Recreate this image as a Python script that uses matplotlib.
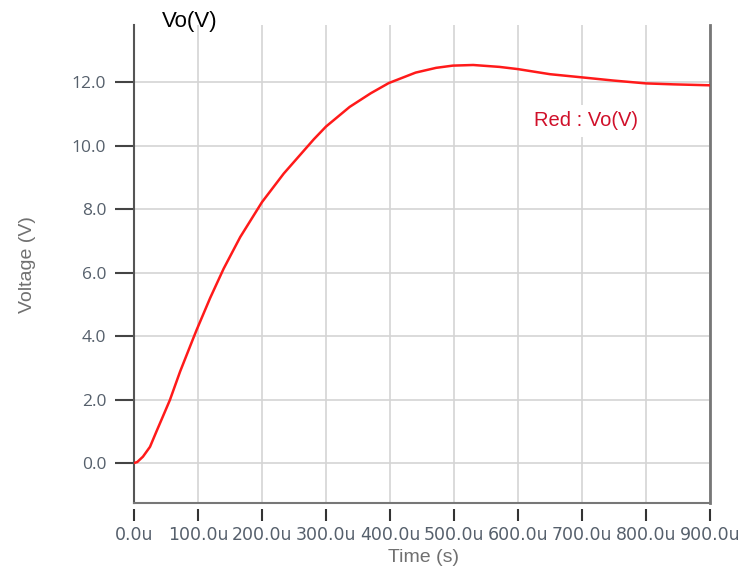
import matplotlib
matplotlib.use("Agg")
import matplotlib.pyplot as plt
import numpy as np

# transient response, time in microseconds
time_us = [0, 5, 14, 25, 35, 45, 56, 72, 93, 98, 119, 140, 166, 200, 234,
           281, 300, 337, 370, 398, 440, 472, 498, 530, 571, 600, 650, 700,
           749, 800, 843, 900]
vo = [0.0, 0.03, 0.2, 0.51, 0.99, 1.46, 1.98, 2.88, 3.95, 4.2, 5.2, 6.12,
      7.12, 8.22, 9.12, 10.2, 10.6, 11.22, 11.65, 11.97, 12.3, 12.45, 12.52,
      12.54, 12.48, 12.41, 12.25, 12.15, 12.05, 11.96, 11.93, 11.9]

x_ticks = [0, 100, 200, 300, 400, 500, 600, 700, 800, 900]
x_labels = [f"{t:.1f}u" for t in x_ticks]
y_ticks = [0, 2, 4, 6, 8, 10, 12]
y_labels = [f"{v:.1f}" for v in y_ticks]

fig = plt.figure(figsize=(7.44, 5.72), dpi=100)
ax = fig.add_axes([134 / 744, 1 - 503 / 572, 576 / 744, 478 / 572])

ax.plot(time_us, vo, color="#ff1a1a", lw=1.8, zorder=3)

ax.set_xlim(0, 900)
ax.set_ylim(-1.26, 13.8)
ax.set_xticks(x_ticks)
ax.set_xticklabels(x_labels, family="Open Sans")
ax.set_yticks(y_ticks)
ax.set_yticklabels(y_labels, family="Open Sans")
ax.grid(True, color="#d4d4d4", lw=1.2, zorder=0)

ax.spines["top"].set_visible(False)
ax.spines["left"].set_color("#555555")
ax.spines["left"].set_linewidth(1.5)
ax.spines["right"].set_color("#777777")
ax.spines["right"].set_linewidth(2)
ax.spines["bottom"].set_position(("outward", 4))
ax.spines["bottom"].set_visible(False)
ax.plot([0, 1], [0, 0], transform=ax.transAxes, color="#777777", lw=1.5,
        clip_on=False, zorder=4)

ax.tick_params(axis="y", length=14, width=1.5, color="#444444",
               labelcolor="#56606c", labelsize=12.5, pad=6)
ax.tick_params(axis="x", length=8.5, width=1.5, color="#333333",
               labelcolor="#56606c", labelsize=12.5, pad=4)

lab_font = "Liberation Sans"
fig.text(423 / 744, 1 - 557 / 572, "Time (s)", ha="center", va="center",
         color="#707070", fontsize=14, family=lab_font)
fig.text(27 / 744, 1 - 265 / 572, "Voltage (V)", ha="center", va="center",
         rotation=90, color="#707070", fontsize=14, family=lab_font)
fig.text(190 / 744, 1 - 21 / 572, "Vo(V)", ha="center", va="center",
         color="black", fontsize=16, family=lab_font)
fig.text(586 / 744, 1 - 121 / 572, "Red : Vo(V)", ha="center", va="center",
         color="#d0102a", fontsize=14.5, family=lab_font,
         bbox=dict(facecolor="white", edgecolor="none", pad=4.5))

fig.savefig("out.png", dpi=100)
